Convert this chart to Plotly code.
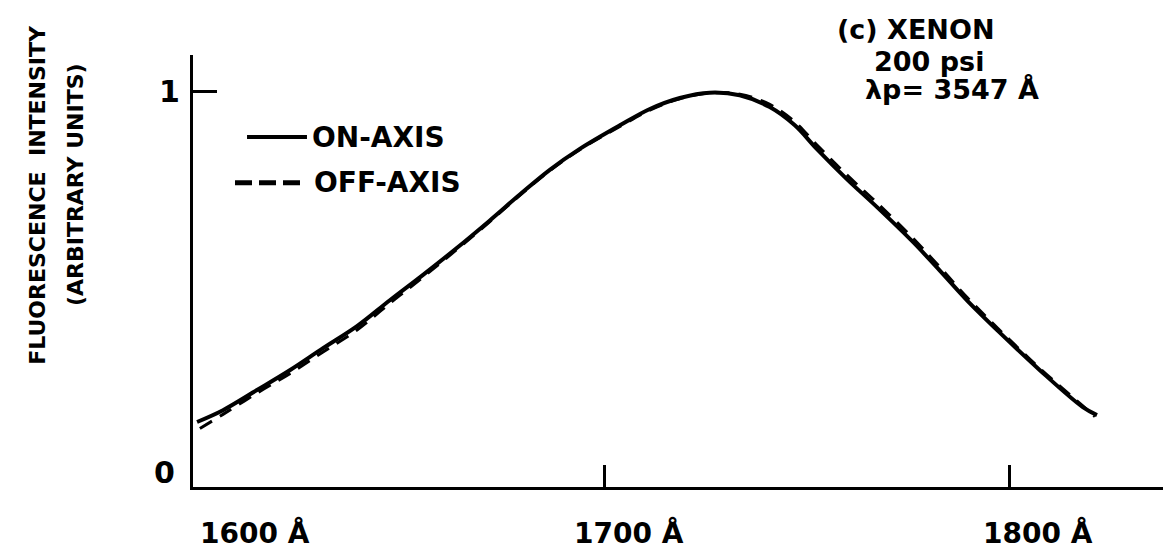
import plotly.graph_objects as go

# ---- data (wavelength in Å, relative intensity) ----
wl_on = [1599.3, 1605.7, 1614.1, 1622.2, 1630.4, 1638.8, 1646.9, 1655.1, 1663.5, 1671.6,
         1679.0, 1686.4, 1693.8, 1703.7, 1711.1, 1718.5, 1725.9, 1733.3, 1740.7, 1746.9,
         1752.3, 1759.8, 1767.2, 1776.0, 1782.7, 1789.4, 1797.5, 1807.4, 1818.0, 1821.5]
on_axis = [0.132, 0.163, 0.216, 0.268, 0.326, 0.384, 0.452, 0.519, 0.590, 0.662,
           0.730, 0.795, 0.850, 0.912, 0.955, 0.984, 0.998, 0.991, 0.960, 0.912,
           0.850, 0.770, 0.697, 0.606, 0.530, 0.452, 0.367, 0.268, 0.171, 0.150]

wl_off = [1600.0, 1605.7, 1614.1, 1622.2, 1630.4, 1638.8, 1646.9, 1655.1, 1663.5, 1671.6,
          1679.0, 1686.4, 1693.8, 1703.7, 1711.1, 1718.5, 1725.9, 1733.3, 1740.7, 1746.9,
          1752.3, 1759.8, 1767.2, 1776.0, 1782.7, 1789.4, 1797.5, 1807.4, 1818.0, 1821.0]
off_axis = [0.115, 0.152, 0.208, 0.259, 0.316, 0.374, 0.444, 0.513, 0.586, 0.659,
            0.728, 0.793, 0.848, 0.909, 0.952, 0.982, 0.997, 0.994, 0.967, 0.921,
            0.861, 0.781, 0.708, 0.616, 0.539, 0.460, 0.373, 0.273, 0.174, 0.146]

x_tick_vals = [1600, 1700, 1800]
x_tick_text = ["1600 Å", "1700 Å", "1800 Å"]
y_tick_vals = [0, 1]
y_tick_text = ["0", "1"]

FONT = "DejaVu Sans"

fig = go.Figure()
fig.add_trace(go.Scatter(x=wl_on, y=on_axis, mode="lines", name="ON-AXIS",
                         line=dict(color="black", width=4, shape="spline", smoothing=1.0),
                         showlegend=False))
fig.add_trace(go.Scatter(x=wl_off, y=off_axis, mode="lines", name="OFF-AXIS",
                         line=dict(color="black", width=3, dash="14px,9px", shape="spline", smoothing=1.0),
                         showlegend=False))

fig.update_layout(
    width=1165, height=552,
    margin=dict(l=193, r=2, t=55, b=65),
    paper_bgcolor="white", plot_bgcolor="white",
    font=dict(family=FONT, color="black"),
    xaxis=dict(range=[1598.3, 1837.8], showgrid=False, zeroline=False,
               showline=True, linecolor="black", linewidth=3,
               tickvals=[1700, 1800], ticks="inside", ticklen=22, tickwidth=3,
               tickcolor="black", showticklabels=False),
    yaxis=dict(range=[-0.039, 1.097], showgrid=False, zeroline=False,
               showline=True, linecolor="black", linewidth=3,
               tickvals=[1], ticks="inside", ticklen=24, tickwidth=3,
               tickcolor="black", showticklabels=False),
)

def bold(t):
    return "<b>" + t + "</b>"

ann = []
# x tick labels
x_shifts = [55, 24, 28]
for v, t, s in zip(x_tick_vals, x_tick_text, x_shifts):
    ann.append(dict(x=v, y=-0.106, xref="x", yref="paper", text=bold(t), showarrow=False,
                    xanchor="center", yanchor="middle", xshift=s,
                    font=dict(size=28, family=FONT)))
# y tick labels
y_xpos = [-0.029, -0.024]
for v, t, xp in zip(y_tick_vals, y_tick_text, y_xpos):
    ann.append(dict(x=xp, y=v, xref="paper", yref="y", text=bold(t), showarrow=False,
                    xanchor="center", yanchor="middle", font=dict(size=30, family=FONT)))
# y axis title (two lines)
ann.append(dict(x=-0.160, y=0.676, xref="paper", yref="paper", text=bold("FLUORESCENCE  INTENSITY"),
                showarrow=False, textangle=-90, xanchor="center", yanchor="middle",
                font=dict(size=22, family=FONT)))
ann.append(dict(x=-0.1216, y=0.699, xref="paper", yref="paper", text=bold("(ARBITRARY UNITS)"),
                showarrow=False, textangle=-90, xanchor="center", yanchor="middle",
                font=dict(size=22, family=FONT)))
# legend texts
ann.append(dict(x=0.121, y=0.810, xref="paper", yref="paper", text=bold("ON-AXIS"),
                showarrow=False, xanchor="left", yanchor="middle", font=dict(size=28, family=FONT)))
ann.append(dict(x=0.123, y=0.704, xref="paper", yref="paper", text=bold("OFF-AXIS"),
                showarrow=False, xanchor="left", yanchor="middle", font=dict(size=28, family=FONT)))
# condition text
ann.append(dict(x=0.662, y=1.058, xref="paper", yref="paper", text=bold("(c) XENON"),
                showarrow=False, xanchor="left", yanchor="middle", font=dict(size=27, family=FONT)))
ann.append(dict(x=0.700, y=0.984, xref="paper", yref="paper", text=bold("200 psi"),
                showarrow=False, xanchor="left", yanchor="middle", font=dict(size=27, family=FONT)))
ann.append(dict(x=0.6907, y=0.919, xref="paper", yref="paper", text=bold("λp= 3547 Å"),
                showarrow=False, xanchor="left", yanchor="middle", font=dict(size=27, family=FONT)))
fig.update_layout(annotations=ann)

# legend line samples
fig.add_shape(type="line", xref="paper", yref="paper", x0=0.0557, x1=0.1175, y0=0.810, y1=0.810,
              line=dict(color="black", width=4))
fig.add_shape(type="line", xref="paper", yref="paper", x0=0.0433, x1=0.1103, y0=0.704, y1=0.704,
              line=dict(color="black", width=5, dash="17px,7px"))

fig.write_html("out.html")
